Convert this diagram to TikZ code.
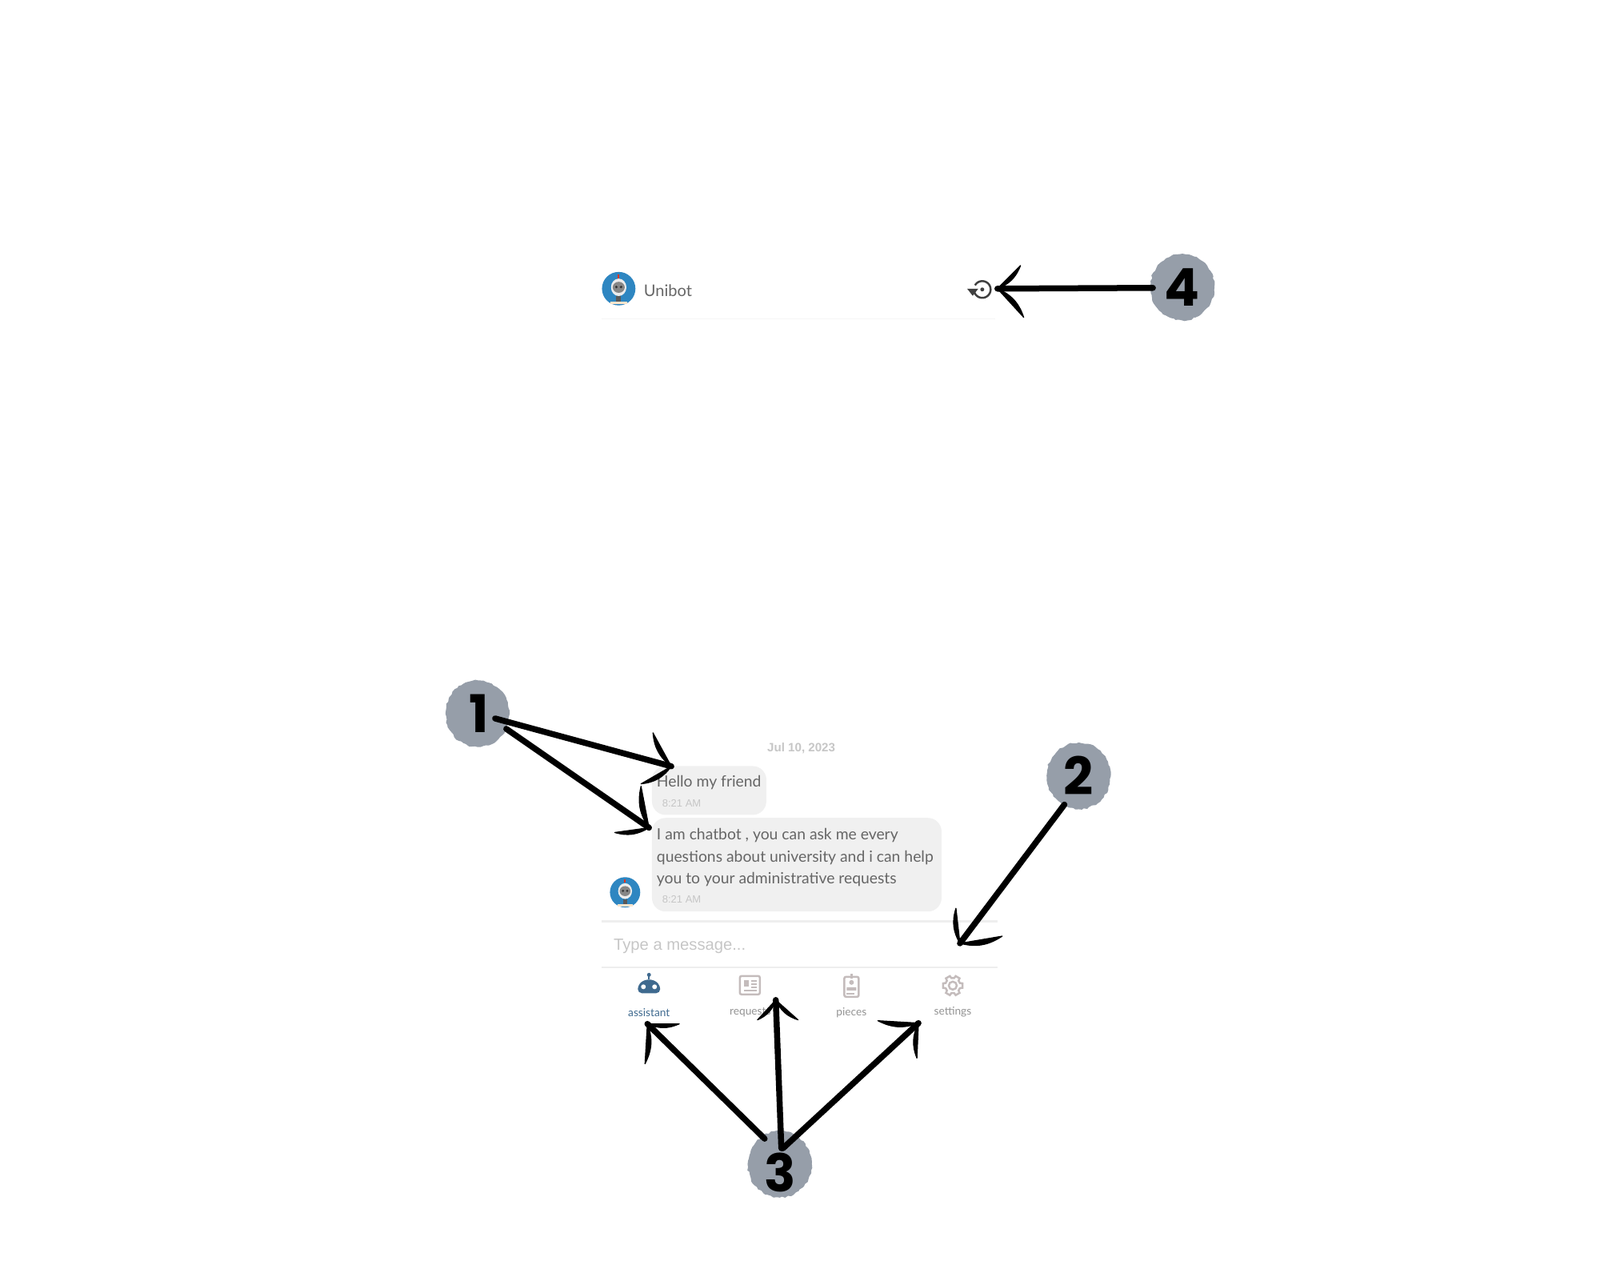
\documentclass[tikz,border=0pt]{standalone}
\usepackage{fontspec}
\usepackage{xcolor}
\setmainfont{Lato}
\newfontfamily\uifont{Liberation Sans}
\newfontfamily\digitfont{Poppins}
\usetikzlibrary{
  positioning,
  calc,
  shapes.geometric,
  decorations.pathmorphing
}
\definecolor{badgegray}{HTML}{969EA9}
\definecolor{bubblegray}{HTML}{F0F0F0}
\definecolor{rulegray}{HTML}{EEEEEE}
\definecolor{texgray}{HTML}{666666}
\definecolor{hintgray}{HTML}{C6C6C6}
\definecolor{icongray}{HTML}{C4BCBC}
\definecolor{navblue}{HTML}{3F6A8F}
\definecolor{avatarblue}{HTML}{2E86C1}
\tikzset{
  badgedigit/.style={inner sep=0pt,font=\digitfont\bfseries\fontsize{18.5pt}{19pt}\selectfont},
  badge/.style={ellipse,fill=badgegray,inner sep=0pt,minimum width=0.80cm,minimum height=0.83cm,
    decorate,decoration={random steps,segment length=1pt,amplitude=0.3pt},badgedigit},
  brushline/.style={line width=0.075cm,line cap=round},
  bubble/.style={fill=bubblegray,rounded corners=0.17cm,inner sep=0pt,anchor=north west},
  msgtext/.style={anchor=west,inner sep=0pt,text=texgray,font=\fontsize{5.5pt}{6pt}\selectfont},
  timetext/.style={anchor=west,inner sep=0pt,text=hintgray,font=\uifont\fontsize{3.7pt}{4pt}\selectfont},
  navtext/.style={inner sep=0pt,text=gray!85,font=\fontsize{3.9pt}{4pt}\selectfont},
  iconline/.style={draw=icongray,line width=0.025cm},
  avatar/.pic={
    \fill[avatarblue] (0,0) circle[radius=1];
    \fill[white!85!gray] (0,-0.08) ellipse[x radius=0.46,y radius=0.52];
    \draw[red!60!brown,line width=0.02cm] (0,-0.62) -- (0,-0.85);
    \fill[gray!95] (0,-0.08) ellipse[x radius=0.36,y radius=0.33];
    \fill[gray!40!black] (-0.14,-0.1) circle[radius=0.08] (0.14,-0.1) circle[radius=0.08];
    \fill[gray!70!black] (-0.14,0.44) rectangle (0.14,0.76);
    \fill[orange!20] (-0.5,0.76) rectangle (0.5,0.94);
  }
}
\newcommand{\brushbarb}[3]{\filldraw[line width=0.012cm,line join=round] (#1) to[bend left=#3] (#2) -- cycle;}
\begin{document}
\begin{tikzpicture}[x=0.9966cm,y=-0.9966cm]
  \useasboundingbox (0,0) rectangle (20.068,16.055);

  \pic[scale=0.21] at (7.76,3.62) {avatar};
  \node[msgtext,font=\fontsize{5.7pt}{6pt}\selectfont] (titletext) at (8.07,3.64) {Unibot};
  \draw[rulegray!60,line width=0.015cm] (7.55,4.00) -- (12.48,4.00);
  \draw[black!75,line width=0.025cm,domain=-150:165,samples=30,smooth,variable=\x] plot ({12.32+0.105*cos(\x)},{3.63+0.105*sin(\x)});
  \fill[black!75] (12.13,3.62) -- (12.27,3.62) -- (12.20,3.71) -- cycle;
  \fill[black!75] (12.32,3.63) circle[radius=0.025];

  \node[inner sep=0pt,text=hintgray,font=\uifont\bfseries\fontsize{4.3pt}{5pt}\selectfont] (datetext) at (10.05,9.385) {Jul 10, 2023};
  \node[bubble,minimum width=1.43cm,minimum height=0.61cm] (hellobubble) at (8.17,9.60) {};
  \node[msgtext] (hellotext) at (8.23,9.815) {Hello my friend};
  \node[timetext] (hellotime) at (8.30,10.07) {8:21 AM};
  \node[bubble,minimum width=3.62cm,minimum height=1.17cm] (chatbubble) at (8.17,10.25) {};
  \node[msgtext] (chatlineone) at (8.23,10.475) {I am chatbot , you can ask me every};
  \node[msgtext] (chatlinetwo) at (8.23,10.755) {questions about university and i can help};
  \node[msgtext] (chatlinethree) at (8.23,11.03) {you to your administrative requests};
  \node[timetext] (chattime) at (8.30,11.28) {8:21 AM};
  \pic[scale=0.19] at (7.84,11.19) {avatar};

  \draw[rulegray,line width=0.03cm] (7.55,11.55) -- (12.51,11.55);
  \node[anchor=west,inner sep=0pt,text=hintgray,font=\uifont\fontsize{5.75pt}{6pt}\selectfont] (typetext) at (7.69,11.865) {Type a message...};
  \draw[rulegray,line width=0.025cm] (7.55,12.13) -- (12.51,12.13);

  \fill[navblue,rounded corners=0.05cm] (8.00,12.455) -- (8.00,12.355) -- (8.08,12.285) -- (8.20,12.285) -- (8.28,12.355) -- (8.28,12.455) -- cycle;
  \draw[navblue,line width=0.02cm] (8.14,12.285) -- (8.14,12.235);
  \fill[navblue] (8.14,12.225) circle[radius=0.025];
  \fill[white] (8.07,12.375) circle[radius=0.03] (8.21,12.375) circle[radius=0.03];
  \node[navtext,text=navblue] (assistanttext) at (8.14,12.695) {assistant};

  \draw[iconline,rounded corners=0.02cm] (9.28,12.24) rectangle (9.53,12.47);
  \fill[icongray] (9.33,12.29) rectangle (9.39,12.37);
  \draw[icongray,line width=0.015cm] (9.42,12.30) -- (9.49,12.30) (9.42,12.34) -- (9.49,12.34) (9.42,12.38) -- (9.49,12.38) (9.33,12.42) -- (9.49,12.42);
  \node[navtext] (requesttext) at (9.41,12.695) {requests};

  \draw[iconline,rounded corners=0.02cm] (10.59,12.25) rectangle (10.77,12.50);
  \draw[iconline] (10.68,12.21) -- (10.68,12.27);
  \fill[icongray] (10.68,12.32) circle[radius=0.03] (10.62,12.42) rectangle (10.74,12.38);
  \draw[icongray,line width=0.015cm] (10.62,12.46) -- (10.72,12.46);
  \node[navtext] (piecestext) at (10.68,12.695) {pieces};

  \begin{scope}[shift={(11.95,12.36)}]
    \draw[iconline] (-20:0.095) \foreach \a in {0,60,...,300} { -- (\a-20:0.095) -- (\a-13:0.125) -- (\a+13:0.125) -- (\a+20:0.095) } -- cycle;
    \draw[iconline] (0,0) circle[radius=0.05];
  \end{scope}
  \node[navtext] (settingstext) at (11.95,12.695) {settings};

  \node[badge] (badgeone) at (5.99,8.95) {\hspace{0.04cm}1};
  \node[badge] (badgetwo) at (13.53,9.73) {2};
  \node[badge] (badgethree) at (9.78,14.60) {};
  \node[badgedigit] (digitthree) at (9.78,14.70) {3};
  \node[badge] (badgefour) at (14.83,3.60) {4};

  \coordinate (tiphello) at (8.42,9.61);
  \coordinate (barbhelloa) at (8.19,9.19);
  \coordinate (barbhellob) at (8.04,9.83);
  \coordinate (tipchat) at (8.14,10.38);
  \coordinate (barbchata) at (8.04,9.86);
  \coordinate (barbchatb) at (7.71,10.44);
  \coordinate (tipinput) at (12.04,11.83);
  \coordinate (barbinputa) at (11.99,11.39);
  \coordinate (barbinputb) at (12.57,11.74);
  \coordinate (tipassistant) at (8.12,12.84);
  \coordinate (barbassistanta) at (8.52,12.84);
  \coordinate (barbassistantb) at (8.09,13.34);
  \coordinate (tiprequest) at (9.73,12.54);
  \coordinate (barbrequesta) at (10.01,12.79);
  \coordinate (barbrequestb) at (9.50,12.79);
  \coordinate (tipsettings) at (11.52,12.83);
  \coordinate (barbsettingsa) at (11.01,12.80);
  \coordinate (barbsettingsb) at (11.50,13.27);
  \coordinate (tiprefresh) at (12.51,3.62);
  \coordinate (barbrefresha) at (12.80,3.33);
  \coordinate (barbrefreshb) at (12.84,3.98);

  \draw[brushline] ($(badgeone)+(0.22,0.06)$) -- (tiphello);
  \draw[brushline] ($(badgeone)+(0.36,0.19)$) -- (tipchat);
  \draw[brushline] ($(badgetwo)+(-0.18,0.36)$) -- (tipinput);
  \draw[brushline] ($(badgethree)+(-0.19,-0.32)$) -- (tipassistant);
  \draw[brushline] ($(badgethree)+(0.02,-0.20)$) -- (tiprequest);
  \draw[brushline] ($(badgethree)+(0.04,-0.20)$) -- (tipsettings);
  \draw[brushline] ($(badgefour)+(-0.37,0.01)$) -- (tiprefresh);

  \brushbarb{tiphello}{barbhelloa}{24}
  \brushbarb{tiphello}{barbhellob}{24}
  \brushbarb{tipchat}{barbchata}{24}
  \brushbarb{tipchat}{barbchatb}{24}
  \brushbarb{tipinput}{barbinputa}{24}
  \brushbarb{tipinput}{barbinputb}{-24}
  \brushbarb{tipassistant}{barbassistanta}{-24}
  \brushbarb{tipassistant}{barbassistantb}{24}
  \brushbarb{tiprequest}{barbrequesta}{-24}
  \brushbarb{tiprequest}{barbrequestb}{24}
  \brushbarb{tipsettings}{barbsettingsa}{24}
  \brushbarb{tipsettings}{barbsettingsb}{-24}
  \brushbarb{tiprefresh}{barbrefresha}{-24}
  \brushbarb{tiprefresh}{barbrefreshb}{24}
\end{tikzpicture}
\end{document}
